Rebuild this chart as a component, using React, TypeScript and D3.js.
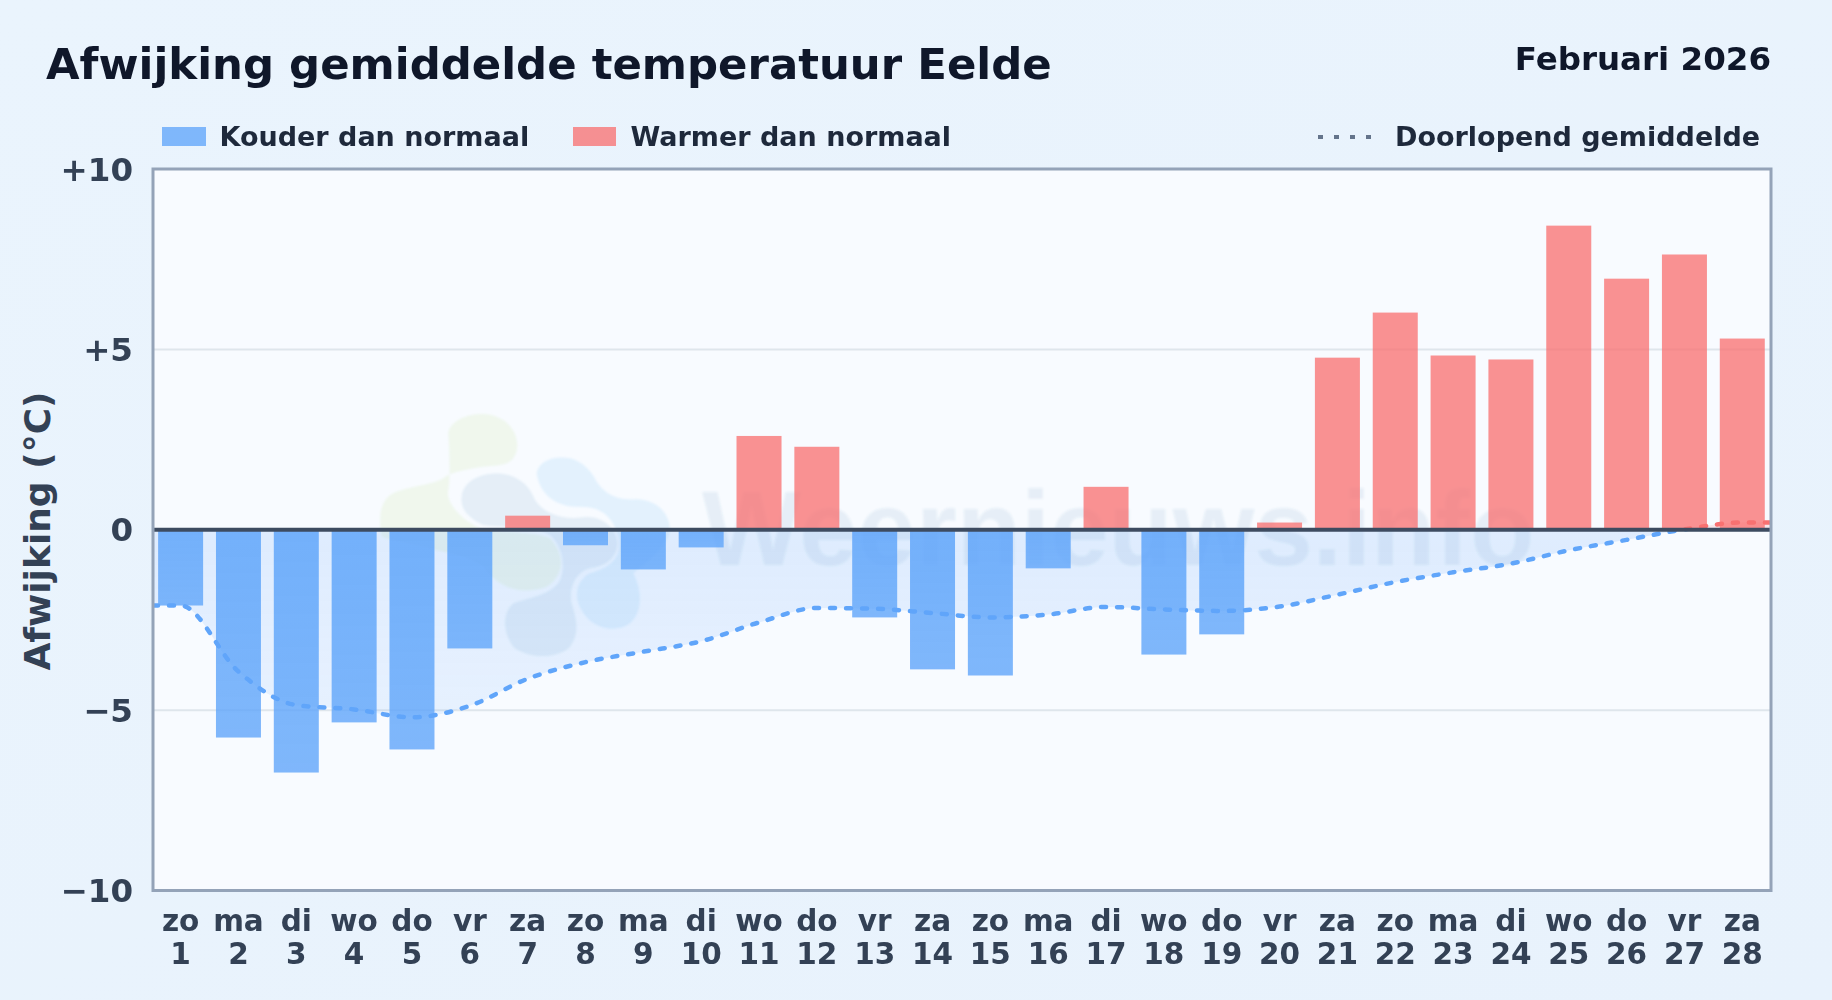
import React, { useRef, useEffect } from 'react';
import * as d3 from 'd3';

const weekdays = ['zo', 'ma', 'di', 'wo', 'do', 'vr', 'za', 'zo', 'ma', 'di', 'wo', 'do', 'vr', 'za', 'zo', 'ma', 'di', 'wo', 'do', 'vr', 'za', 'zo', 'ma', 'di', 'wo', 'do', 'vr', 'za'];
const days = [1, 2, 3, 4, 5, 6, 7, 8, 9, 10, 11, 12, 13, 14, 15, 16, 17, 18, 19, 20, 21, 22, 23, 24, 25, 26, 27, 28];
const anomalies = [-2.1, -5.76, -6.73, -5.34, -6.09, -3.29, 0.39, -0.43, -1.1, -0.49, 2.6, 2.3, -2.43, -3.87, -4.04, -1.07, 1.19, -3.46, -2.9, 0.2, 4.77, 6.02, 4.83, 4.72, 8.43, 6.96, 7.63, 5.3];
const runningMean = [-2.1, -3.93, -4.86, -4.98, -5.2, -4.88, -4.13, -3.67, -3.38, -3.09, -2.57, -2.17, -2.19, -2.31, -2.43, -2.35, -2.14, -2.21, -2.25, -2.13, -1.8, -1.45, -1.18, -0.94, -0.57, -0.28, 0.01, 0.2];
const yTicks = [10, 5, 0, -5, -10];
const yTickLabels = ['+10', '+5', '0', '\u22125', '\u221210'];

const FONT = '"DejaVu Sans", sans-serif';
const BLUE = '#60a5fa';
const RED = '#f87171';

// logo behind the plot, in crop coordinates
const logoBlobs = [
  { fill: '#e3f2d0', d: 'M295 130C300 80 400 55 450 85C500 110 515 170 490 205C470 232 420 225 370 235C320 245 300 250 280 265C250 285 170 290 130 310C90 330 85 380 95 440C170 470 330 480 400 530C450 600 520 615 590 590C640 560 650 500 600 445C560 425 480 430 400 420C340 395 285 340 295 300C300 280 300 200 295 130Z' },
  { fill: '#c6dbe9', d: 'M335 320C340 270 400 245 460 252C510 260 540 290 555 330C580 370 640 392 700 382C750 375 800 410 803 460C800 510 760 530 720 535C680 545 655 590 665 640C680 690 690 730 660 770C620 810 530 805 490 770C460 730 455 670 490 640C530 625 590 620 625 580C650 540 640 470 600 435C550 405 470 415 400 405C360 385 330 360 335 320Z' },
  { fill: '#bfe3fb', d: 'M560 250C565 215 610 195 660 205C700 215 725 245 740 275C770 320 810 330 860 328C920 330 960 370 960 420C950 480 880 520 850 550C880 610 875 670 840 700C790 735 720 710 695 660C670 620 680 570 720 550C770 535 820 510 805 440C790 385 760 350 690 350C630 355 570 320 560 250Z' },
];

const App: React.FC = () => {
  const svgRef = useRef<SVGSVGElement | null>(null);

  useEffect(() => {
    if (!svgRef.current) return;
    document.body.style.margin = '0';

    const width = 1832;
    const height = 1000;
    const plotLeft = 153;
    const plotRight = 1771;
    const plotTop = 169;
    const plotBottom = 890.5;

    const x = d3.scaleBand<number>().domain(days).range([151.7, 1771.2]).paddingInner(0.222).paddingOuter(0.111);
    const y = d3.scaleLinear().domain([-10, 10]).range([plotBottom, plotTop]);
    const centre = (d: number) => (x(d) as number) + x.bandwidth() / 2;

    d3.select(svgRef.current).selectAll('*').remove();
    const svg = d3.select(svgRef.current)
      .attr('width', width)
      .attr('height', height)
      .style('display', 'block')
      .style('font-family', FONT);

    const defs = svg.append('defs');

    const pageGrad = defs.append('linearGradient').attr('id', 'page').attr('x1', 0).attr('y1', 0).attr('x2', 1).attr('y2', 1);
    pageGrad.append('stop').attr('offset', '0%').attr('stop-color', '#eaf4fd');
    pageGrad.append('stop').attr('offset', '100%').attr('stop-color', '#e8f2fc');

    const areaGrad = defs.append('linearGradient').attr('id', 'areaFill').attr('gradientUnits', 'userSpaceOnUse')
      .attr('x1', 0).attr('x2', 0).attr('y1', y(0)).attr('y2', y(-5.2));
    areaGrad.append('stop').attr('offset', '0%').attr('stop-color', BLUE).attr('stop-opacity', 0.17);
    areaGrad.append('stop').attr('offset', '100%').attr('stop-color', BLUE).attr('stop-opacity', 0.11);

    const blueGrad = defs.append('linearGradient').attr('id', 'barBlue').attr('x1', 0).attr('x2', 0).attr('y1', 0).attr('y2', 1);
    blueGrad.append('stop').attr('offset', '0%').attr('stop-color', BLUE).attr('stop-opacity', 0.85);
    blueGrad.append('stop').attr('offset', '100%').attr('stop-color', BLUE).attr('stop-opacity', 0.8);

    defs.append('clipPath').attr('id', 'belowZero').append('rect')
      .attr('x', plotLeft).attr('y', y(0)).attr('width', plotRight - plotLeft).attr('height', plotBottom - y(0));
    defs.append('clipPath').attr('id', 'aboveZero').append('rect')
      .attr('x', plotLeft).attr('y', plotTop).attr('width', plotRight - plotLeft).attr('height', y(0) - plotTop);
    defs.append('filter').attr('id', 'soft').append('feGaussianBlur').attr('stdDeviation', 1.2);

    // background
    svg.append('rect').attr('width', width).attr('height', height).attr('fill', 'url(#page)');
    svg.append('rect')
      .attr('x', plotLeft).attr('y', plotTop)
      .attr('width', plotRight - plotLeft).attr('height', plotBottom - plotTop)
      .attr('fill', '#f8fbff');

    // watermark
    const mark = svg.append('g').attr('filter', 'url(#soft)');
    const logo = mark.append('g').attr('transform', 'translate(350,390) scale(0.3333)');
    logo.selectAll('path').data(logoBlobs).enter().append('path')
      .attr('d', d => d.d)
      .attr('fill', d => d.fill)
      .attr('opacity', 0.38);
    mark.append('text')
      .attr('x', 702).attr('y', 565)
      .attr('font-family', '"Liberation Sans", sans-serif')
      .attr('font-weight', 700)
      .attr('font-size', 105)
      .attr('fill', '#3f78a8')
      .attr('opacity', 0.09)
      .text('Weernieuws.info');

    // grid
    svg.selectAll('.grid').data([5, -5]).enter().append('line')
      .attr('class', 'grid')
      .attr('x1', plotLeft).attr('x2', plotRight)
      .attr('y1', d => y(d)).attr('y2', d => y(d))
      .attr('stroke', '#dfe6ec').attr('stroke-width', 2);

    // running mean, padded to the plot edges
    const meanPoints: [number, number][] = [
      [plotLeft, runningMean[0]],
      ...runningMean.map((v, i) => [centre(days[i]), v] as [number, number]),
      [plotRight, runningMean[runningMean.length - 1]],
    ];
    const line = d3.line<[number, number]>().x(d => d[0]).y(d => y(d[1])).curve(d3.curveMonotoneX);
    const area = d3.area<[number, number]>().x(d => d[0]).y0(y(0)).y1(d => y(d[1])).curve(d3.curveMonotoneX);

    svg.append('path').attr('d', area(meanPoints)).attr('fill', 'url(#areaFill)').attr('clip-path', 'url(#belowZero)');
    svg.append('path').attr('d', area(meanPoints)).attr('fill', RED).attr('opacity', 0.14).attr('clip-path', 'url(#aboveZero)');

    // bars
    svg.selectAll('.bar').data(anomalies).enter().append('rect')
      .attr('class', 'bar')
      .attr('x', (d, i) => x(days[i]) as number)
      .attr('width', x.bandwidth())
      .attr('y', d => Math.min(y(d), y(0)))
      .attr('height', d => Math.abs(y(d) - y(0)))
      .attr('fill', d => (d < 0 ? 'url(#barBlue)' : RED))
      .attr('fill-opacity', d => (d < 0 ? 1 : 0.77));

    // mean line on top of the bars: blue under zero, red over it
    svg.append('path').attr('d', line(meanPoints)).attr('fill', 'none')
      .attr('stroke', BLUE).attr('stroke-width', 4.5).attr('stroke-dasharray', '5 11')
      .attr('stroke-linecap', 'round').attr('clip-path', 'url(#belowZero)');
    svg.append('path').attr('d', line(meanPoints)).attr('fill', 'none')
      .attr('stroke', RED).attr('stroke-width', 4.5).attr('stroke-dasharray', '5 11')
      .attr('stroke-linecap', 'round').attr('clip-path', 'url(#aboveZero)');

    // zero line and frame
    svg.append('line')
      .attr('x1', plotLeft).attr('x2', plotRight).attr('y1', y(0)).attr('y2', y(0))
      .attr('stroke', '#3d4b60').attr('stroke-width', 4);
    svg.append('rect')
      .attr('x', plotLeft).attr('y', plotTop)
      .attr('width', plotRight - plotLeft).attr('height', plotBottom - plotTop)
      .attr('fill', 'none').attr('stroke', '#94a3b8').attr('stroke-width', 3);

    // y ticks
    svg.selectAll('.ytick').data(yTicks).enter().append('text')
      .attr('class', 'ytick')
      .attr('x', 133)
      .attr('y', d => y(d) + 11.5)
      .attr('text-anchor', 'end')
      .attr('font-size', 32.5).attr('font-weight', 700).attr('fill', '#334155')
      .text((d, i) => yTickLabels[i]);

    // x ticks
    svg.selectAll('.xday').data(days).enter().append('text')
      .attr('class', 'xday')
      .attr('x', d => centre(d))
      .attr('y', 931)
      .attr('text-anchor', 'middle')
      .attr('font-size', 29.5).attr('font-weight', 700).attr('fill', '#334155')
      .text((d, i) => weekdays[i]);
    svg.selectAll('.xnum').data(days).enter().append('text')
      .attr('class', 'xnum')
      .attr('x', d => centre(d))
      .attr('y', 964)
      .attr('text-anchor', 'middle')
      .attr('font-size', 29.5).attr('font-weight', 700).attr('fill', '#334155')
      .text(d => d);

    // y title
    svg.append('text')
      .attr('transform', 'translate(50,531) rotate(-90)')
      .attr('text-anchor', 'middle')
      .attr('font-size', 36).attr('font-weight', 700).attr('fill', '#334155')
      .text('Afwijking (°C)');

    // titles
    svg.append('text').attr('x', 46).attr('y', 79)
      .attr('font-size', 43.4).attr('font-weight', 700).attr('fill', '#0f172a')
      .text('Afwijking gemiddelde temperatuur Eelde');
    svg.append('text').attr('x', 1771).attr('y', 70).attr('text-anchor', 'end')
      .attr('font-size', 32.5).attr('font-weight', 700).attr('fill', '#0f172a')
      .text('Februari 2026');

    // legend
    const legendText = (tx: number, label: string) => svg.append('text')
      .attr('x', tx).attr('y', 146)
      .attr('font-size', 27).attr('font-weight', 700).attr('fill', '#1e293b')
      .text(label);
    svg.append('rect').attr('x', 162).attr('y', 127).attr('width', 44).attr('height', 19).attr('fill', BLUE).attr('fill-opacity', 0.78);
    legendText(219.5, 'Kouder dan normaal');
    svg.append('rect').attr('x', 573).attr('y', 127).attr('width', 43).attr('height', 19).attr('fill', RED).attr('fill-opacity', 0.77);
    legendText(630.5, 'Warmer dan normaal');
    svg.append('line').attr('x1', 1318).attr('x2', 1375).attr('y1', 137).attr('y2', 137)
      .attr('stroke', '#64748b').attr('stroke-width', 4).attr('stroke-dasharray', '5 11');
    legendText(1395, 'Doorlopend gemiddelde');
  }, []);

  return <svg ref={svgRef} />;
};

export default App;
